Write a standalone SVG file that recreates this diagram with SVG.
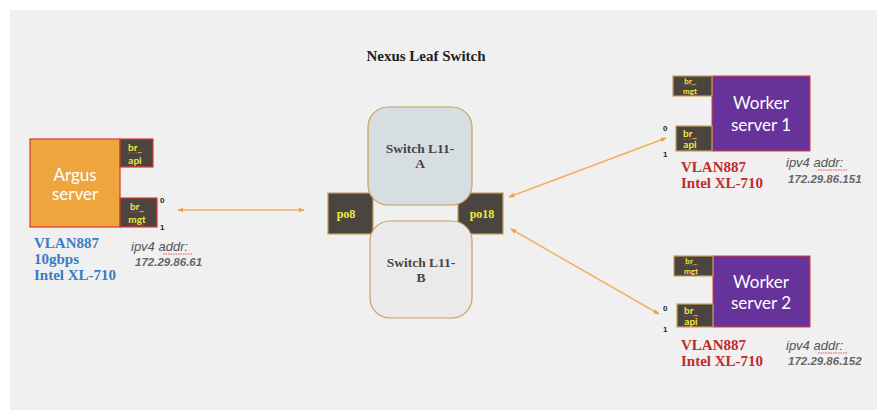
<svg xmlns="http://www.w3.org/2000/svg" width="877" height="410" viewBox="0 0 877 410">
<style>
.serif{font-family:"Liberation Serif","DejaVu Serif",serif;font-weight:bold}
.srv{font-family:Lato,"Open Sans",sans-serif;font-size:17px;fill:#ffffff;text-anchor:middle}
.port{fill:#4b4540;stroke:#c8a060;stroke-width:1.2}
.portr{fill:#4b4540;stroke:#e03a30;stroke-width:1.2}
.pl{font-family:Lato,"Open Sans",sans-serif;font-size:10px;font-weight:bold;fill:#ecec40;text-anchor:middle}
.pls{font-family:Lato,"Open Sans",sans-serif;font-size:8px;font-weight:bold;fill:#ecec40;text-anchor:middle}
.po{font-family:"Liberation Serif",serif;font-size:12px;font-weight:bold;fill:#ecec40;text-anchor:middle}
.sq{stroke:#e04040;stroke-width:0.9;stroke-dasharray:1.5 1;fill:none}
.num{font-family:"Liberation Sans",Arial,sans-serif;font-size:8px;font-weight:bold;fill:#222}
.ip{font-family:"Liberation Sans",Arial,sans-serif;font-size:13px;font-style:italic;fill:#555}
.ipn{font-family:"Liberation Sans",Arial,sans-serif;font-size:11.5px;font-style:italic;font-weight:bold;fill:#666}
.blue{fill:#3a7cc6;font-size:15px}
.red{fill:#c42a2a;font-size:15px}
.sw{font-size:13.5px;fill:#444;text-anchor:middle}
.conn{stroke:#f2b060;stroke-width:1.5;fill:none;marker-start:url(#ah);marker-end:url(#ah)}
</style>
<defs>
<marker id="ah" viewBox="0 0 10 10" refX="9" refY="5" markerWidth="6" markerHeight="6" orient="auto-start-reverse" markerUnits="userSpaceOnUse">
<path d="M0,1 L10,5 L0,9 Z" fill="#f2a040"/>
</marker>
</defs>
<rect x="0" y="0" width="877" height="410" fill="#ffffff"/>
<rect x="10" y="10" width="867" height="400" fill="#f0f0f0"/>

<text class="serif" x="426" y="61" font-size="15" text-anchor="middle" fill="#222">Nexus Leaf Switch</text>

<g id="connectors">
<line class="conn" x1="178" y1="210" x2="304" y2="210"/>
<line class="conn" x1="509" y1="197" x2="666" y2="138"/>
<line class="conn" x1="511" y1="229" x2="659" y2="314"/>
</g>

<g id="argus">
<rect x="30" y="139" width="90" height="88" fill="#eea53e" stroke="#e03a30" stroke-width="1.2"/>
<text class="srv" x="75" y="181">Argus</text>
<text class="srv" x="75" y="200">server</text>
<rect class="portr" x="120" y="139" width="33" height="28"/>
<text class="pl" x="135" y="151">br_</text>
<text class="pl" x="135" y="164">api</text>
<path class="sq" d="M128,153 H142 M129,166 H141"/>
<rect class="portr" x="120" y="198" width="37" height="29"/>
<text class="pl" x="137" y="210">br_</text>
<text class="pl" x="137" y="223">mgt</text>
<path class="sq" d="M130,212 H146 M130,225 H145"/>
<text class="num" x="160" y="203">0</text>
<text class="num" x="160" y="230">1</text>
<text class="serif blue" x="34" y="248">VLAN887</text>
<text class="serif blue" x="34" y="264">10gbps</text>
<text class="serif blue" x="34" y="280">Intel XL-710</text>
<text class="ip" x="131" y="251">ipv4 addr:</text>
<path class="sq" d="M163,254 H193"/>
<text class="ipn" x="135" y="266">172.29.86.61</text>
</g>

<g id="po8">
<rect class="port" x="328" y="193" width="45" height="41"/>
<text class="po" x="346" y="218">po8</text>
</g>
<g id="po18">
<rect class="port" x="458" y="193" width="45" height="41"/>
<text class="po" x="482" y="218">po18</text>
</g>

<g id="switchA">
<rect x="368" y="107" width="104" height="98" rx="20" fill="#d7dee2" stroke="#c8a060" stroke-width="1.2"/>
<text class="serif sw" x="420" y="153">Switch L11-</text>
<text class="serif sw" x="420" y="168">A</text>
</g>
<g id="switchB">
<rect x="370" y="221" width="102" height="97" rx="20" fill="#ebeaea" stroke="#c8a060" stroke-width="1.2"/>
<text class="serif sw" x="421" y="267">Switch L11-</text>
<text class="serif sw" x="421" y="282">B</text>
</g>

<g id="worker1">
<rect x="712" y="76" width="98" height="75" fill="#67329a" stroke="#e03a30" stroke-width="1"/>
<text class="srv" x="761" y="109">Worker</text>
<text class="srv" x="761" y="131">server 1</text>
<rect class="port" x="673" y="76" width="39" height="20"/>
<text class="pls" x="690" y="83.5">br_</text>
<text class="pls" x="690" y="93.5">mgt</text>
<path class="sq" d="M683,85 H697 M683,95 H697"/>
<rect class="port" x="676" y="126" width="36" height="25"/>
<text class="pl" x="690" y="137">br_</text>
<text class="pl" x="690" y="148">api</text>
<path class="sq" d="M683,139 H697 M683,149.5 H697"/>
<text class="num" x="663" y="131">0</text>
<text class="num" x="663" y="157">1</text>
<text class="serif red" x="681" y="172">VLAN887</text>
<text class="serif red" x="681" y="188">Intel XL-710</text>
<text class="ip" x="786" y="167">ipv4 addr:</text>
<path class="sq" d="M818,170 H848"/>
<text class="ipn" x="788" y="183">172.29.86.151</text>
</g>

<g id="worker2">
<rect x="713" y="256" width="97" height="71" fill="#67329a" stroke="#e03a30" stroke-width="1"/>
<text class="srv" x="761" y="288">Worker</text>
<text class="srv" x="761" y="309">server 2</text>
<rect class="port" x="674" y="256" width="39" height="20"/>
<text class="pls" x="691" y="263.5">br_</text>
<text class="pls" x="691" y="273.5">mgt</text>
<path class="sq" d="M684,265 H698 M684,275 H698"/>
<rect class="port" x="677" y="304" width="36" height="23"/>
<text class="pl" x="691" y="314">br_</text>
<text class="pl" x="691" y="325">api</text>
<path class="sq" d="M684,316 H698 M684,326 H698"/>
<text class="num" x="663" y="311">0</text>
<text class="num" x="663" y="332">1</text>
<text class="serif red" x="681" y="350">VLAN887</text>
<text class="serif red" x="681" y="366">Intel XL-710</text>
<text class="ip" x="786" y="350">ipv4 addr:</text>
<path class="sq" d="M818,353 H848"/>
<text class="ipn" x="788" y="365">172.29.86.152</text>
</g>
</svg>
